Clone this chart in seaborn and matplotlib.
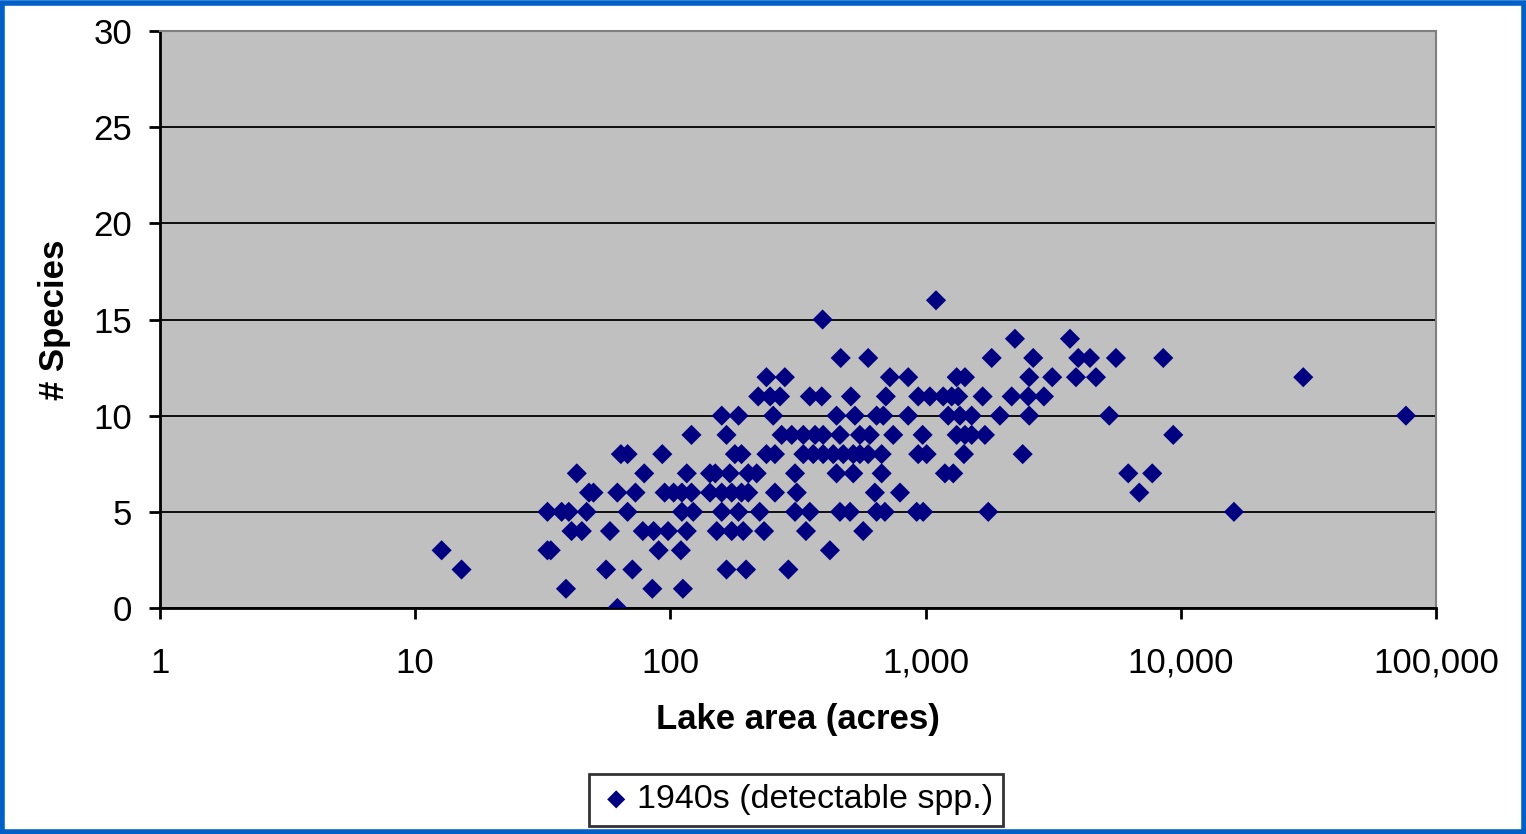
import pandas as pd
import matplotlib
matplotlib.use("Agg")
import matplotlib.pyplot as plt
import matplotlib.ticker as mticker
from matplotlib.patches import Rectangle
import seaborn as sns

# --- data: lake area (acres) and number of species ---
area_0 = [62]
area_1 = [39, 85, 112]
area_2 = [15.2, 56, 71, 166, 198, 290]
area_3 = [12.7, 33, 34, 90, 110, 422]
area_4 = [41, 45, 58, 78, 86, 98, 116, 152, 174, 193, 233, 340, 570]
area_5 = [33, 37.5, 40, 47, 68, 111, 123, 159, 185, 224, 308, 352, 462, 506,
          643, 693, 923, 979, 1761, 16160]
area_6 = [48, 50, 62, 73, 95, 103, 111, 121, 143, 159, 174, 190, 202, 257, 313,
          633, 794, 6878]
area_7 = [43, 79, 116, 143, 150, 171, 202, 218, 308, 448, 521, 673, 1191, 1284,
          6228, 7732]
area_8 = [64, 68, 93, 179, 190, 238, 257, 332, 363, 397, 435, 476, 521, 553,
          596, 673, 936, 1010, 1414, 2402]
area_9 = [121, 166, 273, 299, 332, 369, 397, 462, 553, 605, 747, 974, 1324,
          1427, 1516, 1709, 9346]
area_10 = [159, 185, 253, 448, 529, 643, 683, 855, 1227, 1364, 1516, 1956,
           2549, 5246, 76270]
area_11 = [221, 246, 269, 352, 392, 510, 699, 936, 1040, 1173, 1266, 1343,
           1674, 2175, 2526, 2910]
area_12 = [238, 281, 725, 855, 1324, 1427, 2549, 3136, 3885, 4653, 30200]
area_13 = [465, 596, 1816, 2642, 3967, 4409, 5573, 8540]
area_14 = [2240, 3680]
area_15 = [395]
area_16 = [1099]

groups = [area_0, area_1, area_2, area_3, area_4, area_5, area_6, area_7,
          area_8, area_9, area_10, area_11, area_12, area_13, area_14,
          area_15, area_16]

rows = []
for n_species, areas in enumerate(groups):
    for a in areas:
        rows.append((a, n_species))
df = pd.DataFrame(rows, columns=["area", "species"])

x_ticks = [1, 10, 100, 1000, 10000, 100000]
y_ticks = [0, 5, 10, 15, 20, 25, 30]

plt.rcParams['font.family'] = ['Liberation Sans', 'DejaVu Sans']

fig = plt.figure(figsize=(15.26, 8.34), dpi=100)
ax = fig.add_axes([0.1048, 0.271, 0.8362, 0.6918])
ax.set_facecolor('#C0C0C0')

sns.scatterplot(data=df, x="area", y="species", marker='D', s=105,
                color='#000080', edgecolor='none', linewidth=0,
                label='1940s (detectable spp.)', ax=ax, zorder=3)

ax.set_xscale('log')
ax.set_xlim(1, 100000)
ax.set_ylim(0, 30)
ax.set_xticks(x_ticks)
ax.xaxis.set_major_formatter(mticker.FuncFormatter(lambda v, p: f"{int(round(v)):,}"))
ax.xaxis.set_minor_locator(mticker.NullLocator())
ax.set_yticks(y_ticks)

ax.yaxis.grid(True, color='black', linewidth=1.3, zorder=1)
ax.set_axisbelow(True)

for side in ['left', 'bottom']:
    ax.spines[side].set_color('black')
    ax.spines[side].set_linewidth(2)
for side in ['top', 'right']:
    ax.spines[side].set_color('#808080')
    ax.spines[side].set_linewidth(1.5)

ax.tick_params(axis='y', direction='out', length=8, width=2, labelsize=25, pad=12)
ax.tick_params(axis='x', direction='out', length=8, width=2, labelsize=25, pad=20)

ax.set_xlabel('Lake area (acres)', fontsize=25, fontweight='bold', labelpad=17)
ax.set_ylabel('# Species', fontsize=25, fontweight='bold', labelpad=16)

handles, labels = ax.get_legend_handles_labels()
if ax.get_legend() is not None:
    ax.get_legend().remove()
leg = fig.legend(handles, labels, loc='center', bbox_to_anchor=(0.5216, 0.041),
                 fontsize=24.5, frameon=True, fancybox=False, edgecolor='black',
                 handletextpad=0.1, borderpad=0.3, handlelength=1.0,
                 markerscale=0.9)
leg.get_frame().set_linewidth(2)

# blue frame around the whole picture
fig.patches.append(Rectangle((0.0015, 0.002), 0.997, 0.995, transform=fig.transFigure,
                             fill=False, edgecolor='#0060C8', linewidth=4))

fig.savefig('out.png', dpi=100)
